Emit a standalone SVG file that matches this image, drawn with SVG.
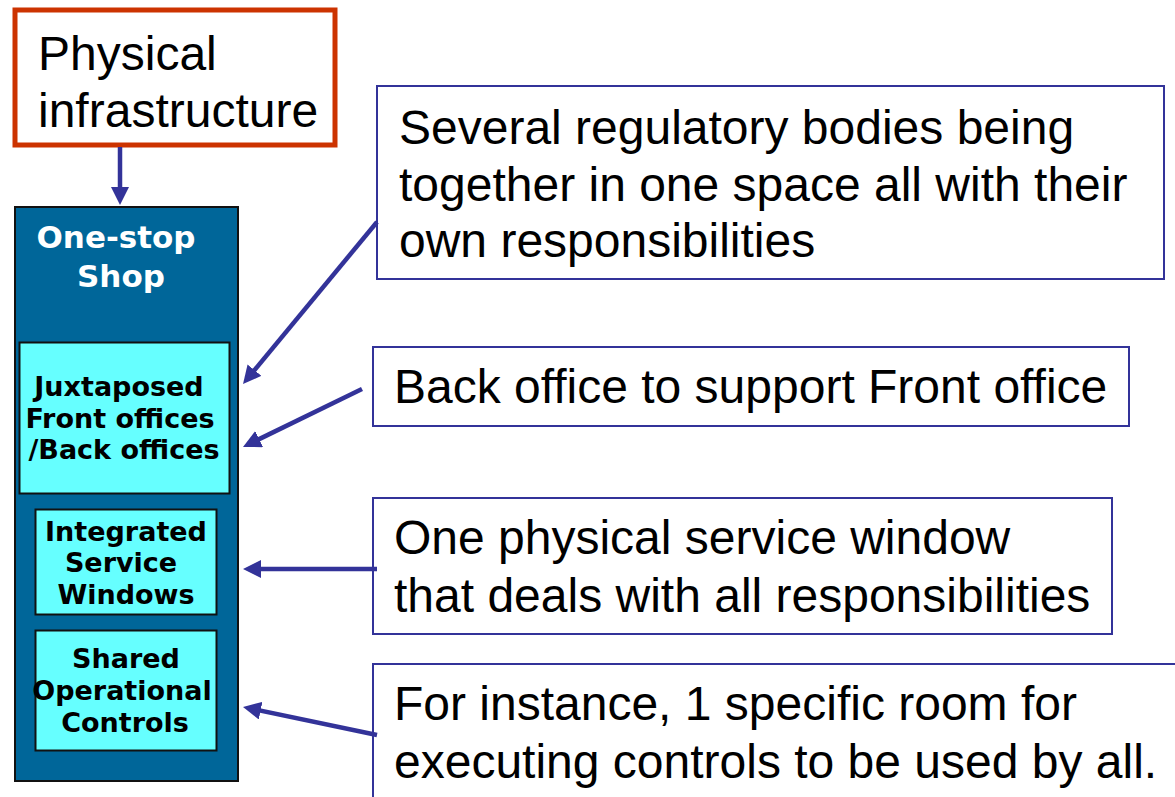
<svg xmlns="http://www.w3.org/2000/svg" width="1175" height="797" viewBox="0 0 1175 797">
<style>
.big{font-family:"Liberation Sans",Arial,sans-serif;font-size:48px;fill:#000}
.bold{font-family:"DejaVu Sans",Verdana,sans-serif;font-weight:bold;font-size:27px;fill:#000;text-anchor:middle}
.title{font-family:"DejaVu Sans",Verdana,sans-serif;font-weight:bold;font-size:31px;fill:#fff;text-anchor:middle}
.note{fill:#fff;stroke:#333399;stroke-width:2}
.cyan{fill:#66FFFF;stroke:#111;stroke-width:2}
.conn{stroke:#333399;stroke-width:4.5;fill:none}
</style>
<defs>
<marker id="ah" viewBox="0 0 18 18" refX="8" refY="9" markerWidth="18" markerHeight="18" markerUnits="userSpaceOnUse" orient="auto">
<path d="M0,0 L18,9 L0,18 z" fill="#333399"/>
</marker>
</defs>
<g id="physical">
<rect x="15" y="10" width="320" height="135" fill="#fff" stroke="#CC3300" stroke-width="5"/>
<text class="big" x="38" y="70">Physical</text>
<text class="big" x="38" y="127">infrastructure</text>
</g>
<g id="onestop">
<rect x="15" y="207" width="223" height="574" fill="#006699" stroke="#111" stroke-width="2"/>
<text class="title" x="116" y="248">One-stop</text>
<text class="title" x="121" y="287">Shop</text>
</g>
<g id="juxtaposed">
<rect class="cyan" x="19.5" y="342.5" width="210" height="151"/>
<text class="bold" x="119" y="396">Juxtaposed</text>
<text class="bold" x="120" y="428">Front offices</text>
<text class="bold" x="124" y="459">/Back offices</text>
</g>
<g id="integrated">
<rect class="cyan" x="35.5" y="509.5" width="181" height="105"/>
<text class="bold" x="126" y="541">Integrated</text>
<text class="bold" x="121" y="572">Service</text>
<text class="bold" x="126" y="604">Windows</text>
</g>
<g id="shared">
<rect class="cyan" x="35.5" y="630.5" width="181" height="120"/>
<text class="bold" x="126" y="668">Shared</text>
<text class="bold" x="122" y="700">Operational</text>
<text class="bold" x="125" y="732">Controls</text>
</g>
<g id="noteA">
<rect class="note" x="377" y="86" width="787" height="193"/>
<text class="big" x="399" y="144">Several regulatory bodies being</text>
<text class="big" x="399" y="201">together in one space all with their</text>
<text class="big" x="399" y="257">own responsibilities</text>
</g>
<g id="noteB">
<rect class="note" x="373" y="347" width="756" height="79"/>
<text class="big" x="394" y="403">Back office to support Front office</text>
</g>
<g id="noteC">
<rect class="note" x="373" y="498" width="739" height="136"/>
<text class="big" x="394" y="554">One physical service window</text>
<text class="big" x="394" y="612">that deals with all responsibilities</text>
</g>
<g id="noteD">
<rect class="note" x="373" y="664" width="810" height="150"/>
<text class="big" x="394" y="720">For instance, 1 specific room for</text>
<text class="big" x="394" y="778">executing controls to be used by all.</text>
</g>
<g id="connectors">
<line class="conn" x1="120" y1="147" x2="120" y2="195" marker-end="url(#ah)"/>
<line class="conn" x1="377" y1="222" x2="249.4" y2="376.3" marker-end="url(#ah)"/>
<line class="conn" x1="362" y1="389" x2="252" y2="442.6" marker-end="url(#ah)"/>
<line class="conn" x1="377" y1="569" x2="253" y2="569" marker-end="url(#ah)"/>
<line class="conn" x1="377" y1="735" x2="252.8" y2="709" marker-end="url(#ah)"/>
</g>
</svg>
